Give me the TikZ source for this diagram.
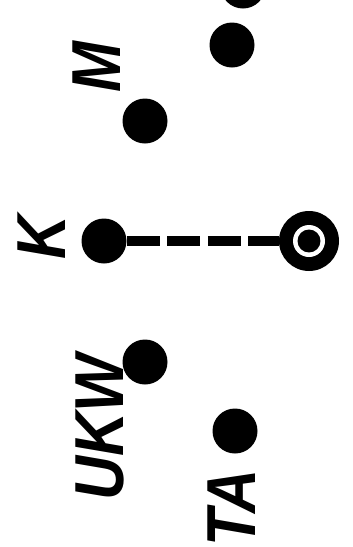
\documentclass[tikz,border=0pt]{standalone}
\usepackage{fontspec}
\newfontfamily\labelfont{Liberation Sans}

\tikzset{every picture/.style={line width=0.75pt}}
\tikzset{
  dot/.style={circle, fill=black, inner sep=0pt, minimum size=33.75pt},
  ring/.style={circle, fill=black, inner sep=0pt, minimum size=45pt,
    path picture={\fill[white] (path picture bounding box.center) circle (12pt);
                  \fill[black] (path picture bounding box.center) circle (8.6pt);}},
  lbl/.style={rotate=90, inner sep=0pt, font=\labelfont\bfseries\itshape\fontsize{52}{52}\selectfont},
  link/.style={line width=8pt, dash pattern=on 24.75pt off 5.6pt}
}

\begin{document}
\begin{tikzpicture}[x=0.75pt,y=0.75pt,yscale=-1,xscale=1]
\useasboundingbox (0,0) rectangle (353,547);
\clip (0,0) rectangle (353,547);

% Dots
\node [dot] (top) at (243,-14) {};
\node [dot] (n) at (232,45) {};
\node [dot] (m) at (145,121) {};
\node [dot] (k) at (104,241) {};
\node [dot] (ukw) at (145,362) {};
\node [dot] (ta) at (235,431) {};
% Open circle
\node [ring] (o) at (309,241) {};

% Dashed link
\draw [link] (k) -- (o);

% Text Node
\node [lbl] (mlabel) at (97,67) {\scalebox{0.88}[1]{M}};
% Text Node
\node [lbl] (klabel) at (42,237) {\scalebox{0.88}[1]{K}};
% Text Node
\node [lbl] (ukwlabel) at (100,428) {\scalebox{0.88}[1]{UKW}};
% Text Node
\node [lbl] (talabel) at (232,508) {\scalebox{0.88}[1]{TA}};

\end{tikzpicture}
\end{document}
